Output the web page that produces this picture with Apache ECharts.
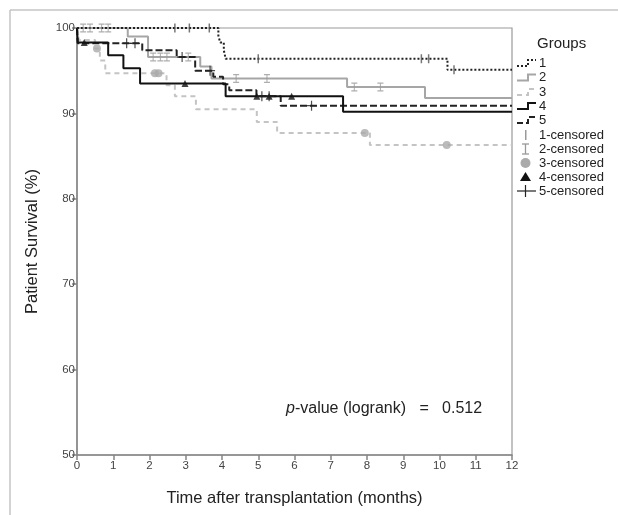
<!DOCTYPE html>
<html lang="en">
<head>
<meta charset="UTF-8">
<title>Patient Survival</title>
<script src="https://cdn.jsdelivr.net/npm/echarts@6/dist/echarts.min.js"></script>
<style>
    *{margin:0;padding:0;}
    #chart{width:618px;height:515px;}
</style>
</head>
<body>
<div id="chart"></div>
<script>
// Kaplan-Meier steps: time (months) and survival (%) after that time
var g1Time = [0, 3.9, 3.95, 4.05, 4.1, 10.22, 12];
var g1Surv = [100, 99.1, 98.3, 97.4, 96.4, 95.1, 95.1];
var g2Time = [0, 1.4, 1.96, 3.4, 3.71, 7.45, 9.6, 12];
var g2Surv = [100, 99.0, 96.6, 95.5, 94.1, 93.1, 91.8, 91.8];
var g3Time = [0, 0.05, 0.5, 0.63, 0.78, 2.47, 2.7, 3.28, 4.96, 5.52, 8.08, 12];
var g3Surv = [100, 98.6, 97.6, 96.2, 94.7, 93.3, 92.0, 90.5, 89.0, 87.7, 86.3, 86.3];
var g4Time = [0, 0.02, 0.86, 1.28, 1.74, 4.1, 7.34, 12];
var g4Surv = [100, 98.3, 96.8, 95.3, 93.5, 92.0, 90.2, 90.2];
var g5Time = [0, 0.02, 1.8, 2.75, 3.26, 3.76, 4.03, 4.2, 4.95, 5.62, 12];
var g5Surv = [100, 98.2, 97.4, 96.6, 95.0, 94.3, 93.4, 92.7, 92.0, 90.9, 90.9];

// censored observations
var c1Time = [2.7, 3.1, 3.65, 5.0, 9.5, 9.7, 10.4];
var c1Surv = [100, 100, 100, 96.4, 96.4, 96.4, 95.1];
var c2Time = [0.17, 0.36, 0.68, 0.86, 2.1, 2.3, 2.48, 3.07, 4.39, 5.24, 7.65, 8.37];
var c2Surv = [100, 100, 100, 100, 96.6, 96.6, 96.6, 96.6, 94.1, 94.1, 93.1, 93.1];
var c3Time = [0.55, 2.15, 2.25, 7.94, 10.2];
var c3Surv = [97.6, 94.7, 94.7, 87.7, 86.3];
var c4Time = [0.2, 2.98, 4.96, 5.3, 5.92];
var c4Surv = [98.3, 93.5, 92.0, 92.0, 92.0];
var c5Time = [1.37, 1.6, 2.9, 3.67, 5.1, 5.3, 6.47];
var c5Surv = [98.2, 98.2, 96.6, 95.0, 92.0, 92.0, 90.9];

var xTicks = [0, 12, 1];
var yTicks = [50, 100, 10];

function zip(t, s) {
    return t.map(function (x, i) { return [x, s[i]]; });
}

var FONT = 'Liberation Sans, Arial, sans-serif';
var barPath = 'path://M0,0H2V10H0Z';
var beamPath = 'path://M0,0H8V1.4H4.7V8.6H8V10H0V8.6H3.3V1.4H0Z';
var plusPath = 'path://M4.4,0H5.6V4.4H10V5.6H5.6V10H4.4V5.6H0V4.4H4.4Z';

function kmLine(name, t, s, color, type, width, z) {
    return {
        name: name, type: 'line', step: 'end', symbol: 'none', z: z,
        data: zip(t, s),
        lineStyle: {color: color, type: type, width: width},
        animation: false
    };
}
function censored(name, t, s, symbol, size, color, z) {
    return {
        name: name, type: 'scatter', symbol: symbol, symbolSize: size,
        symbolKeepAspect: false, z: z,
        itemStyle: {color: color},
        data: zip(t, s),
        animation: false
    };
}

// legend drawn by hand, SPSS style
var legX = 517, legTextX = 539;
var rowY = [63, 77.5, 92, 106, 120, 135, 149, 163, 177, 191];
function stepSample(y, color, dash, w) {
    return {
        type: 'polyline',
        shape: {points: [[legX, y + 3], [legX + 11, y + 3], [legX + 11, y - 3], [legX + 19, y - 3]]},
        style: {stroke: color, lineWidth: w, lineDash: dash, fill: null}
    };
}
function legText(y, txt) {
    return {type: 'text', x: legTextX, y: y, style: {text: txt, font: '13px ' + FONT, fill: '#222', verticalAlign: 'middle'}};
}

var graphic = [
    {type: 'line', shape: {x1: 10, y1: 10, x2: 618, y2: 10}, style: {stroke: '#c4c4c4', lineWidth: 1.5}},
    {type: 'line', shape: {x1: 10, y1: 10, x2: 10, y2: 515}, style: {stroke: '#c4c4c4', lineWidth: 1.5}},
    {type: 'text', x: 537, y: 44, style: {text: 'Groups', font: '15px ' + FONT, fill: '#222', verticalAlign: 'middle'}},
    stepSample(rowY[0], '#222', [2, 2], 2),
    stepSample(rowY[1], '#a6a6a6', null, 2),
    stepSample(rowY[2], '#c4c4c4', [5, 4], 2),
    stepSample(rowY[3], '#111', null, 2),
    stepSample(rowY[4], '#222', [6, 3], 2),
    legText(rowY[0], '1'), legText(rowY[1], '2'), legText(rowY[2], '3'),
    legText(rowY[3], '4'), legText(rowY[4], '5'),
    {type: 'rect', shape: {x: 525, y: rowY[5] - 5, width: 1.5, height: 10}, style: {fill: '#999'}},
    {type: 'line', shape: {x1: 522, y1: rowY[6] - 5, x2: 529, y2: rowY[6] - 5}, style: {stroke: '#999', lineWidth: 1.3}},
    {type: 'line', shape: {x1: 525.5, y1: rowY[6] - 5, x2: 525.5, y2: rowY[6] + 5}, style: {stroke: '#999', lineWidth: 1.3}},
    {type: 'line', shape: {x1: 522, y1: rowY[6] + 5, x2: 529, y2: rowY[6] + 5}, style: {stroke: '#999', lineWidth: 1.3}},
    {type: 'circle', shape: {cx: 525.5, cy: rowY[7], r: 5}, style: {fill: '#aaa'}},
    {type: 'polygon', shape: {points: [[525.5, rowY[8] - 5], [531, rowY[8] + 4], [520, rowY[8] + 4]]}, style: {fill: '#111'}},
    {type: 'line', shape: {x1: 517, y1: rowY[9], x2: 536, y2: rowY[9]}, style: {stroke: '#222', lineWidth: 1.2}},
    {type: 'line', shape: {x1: 525.5, y1: rowY[9] - 6, x2: 525.5, y2: rowY[9] + 6}, style: {stroke: '#222', lineWidth: 1.2}},
    legText(rowY[5], '1-censored'), legText(rowY[6], '2-censored'), legText(rowY[7], '3-censored'),
    legText(rowY[8], '4-censored'), legText(rowY[9], '5-censored'),
    {
        type: 'text', x: 286, y: 409,
        style: {
            text: '{i|p}-value (logrank)   =   0.512',
            font: '16px ' + FONT, fill: '#222', verticalAlign: 'middle',
            rich: {i: {fontStyle: 'italic', fontSize: 16, fontFamily: FONT, fill: '#222'}}
        }
    }
];

var axisCol = '#858585';
var option = {
    backgroundColor: '#fff',
    animation: false,
    grid: {left: 77, top: 28, right: 106, bottom: 60, show: true, borderColor: '#9a9a9a', borderWidth: 1.2},
    xAxis: {
        type: 'value', min: xTicks[0], max: xTicks[1], interval: xTicks[2],
        name: 'Time after transplantation (months)', nameLocation: 'middle', nameGap: 35,
        nameTextStyle: {fontSize: 16.5, fontFamily: FONT, color: '#222'},
        axisLine: {lineStyle: {color: axisCol, width: 1.5}},
        axisTick: {length: 5, lineStyle: {color: axisCol, width: 1.5}},
        axisLabel: {fontSize: 11.5, fontFamily: FONT, color: '#444', margin: 5},
        splitLine: {show: false}
    },
    yAxis: {
        type: 'value', min: yTicks[0], max: yTicks[1], interval: yTicks[2],
        name: 'Patient Survival (%)', nameLocation: 'middle', nameGap: 36,
        nameTextStyle: {fontSize: 16.5, fontFamily: FONT, color: '#222'},
        axisLine: {show: true, lineStyle: {color: axisCol, width: 1.5}},
        axisTick: {show: true, length: 5, lineStyle: {color: axisCol, width: 1.5}},
        axisLabel: {fontSize: 11.5, fontFamily: FONT, color: '#444', margin: 2},
        splitLine: {show: false}
    },
    series: [
        kmLine('3', g3Time, g3Surv, '#c4c4c4', [5, 4], 2, 2),
        kmLine('2', g2Time, g2Surv, '#a6a6a6', 'solid', 2, 3),
        kmLine('5', g5Time, g5Surv, '#222', [7, 3], 2, 4),
        kmLine('4', g4Time, g4Surv, '#111', 'solid', 2, 5),
        kmLine('1', g1Time, g1Surv, '#222', [2, 2], 2, 6),
        censored('1-censored', c1Time, c1Surv, barPath, [1.5, 9], '#555', 7),
        censored('2-censored', c2Time, c2Surv, beamPath, [6, 9], '#9a9a9a', 7),
        censored('3-censored', c3Time, c3Surv, 'circle', 8, '#aaa', 7),
        censored('4-censored', c4Time, c4Surv, 'triangle', 7, '#111', 8),
        censored('5-censored', c5Time, c5Surv, plusPath, 10, '#222', 8)
    ],
    graphic: graphic
};

var myChart = echarts.init(document.getElementById('chart'), null, {renderer: 'canvas'});
myChart.setOption(option);
</script>
</body>
</html>
